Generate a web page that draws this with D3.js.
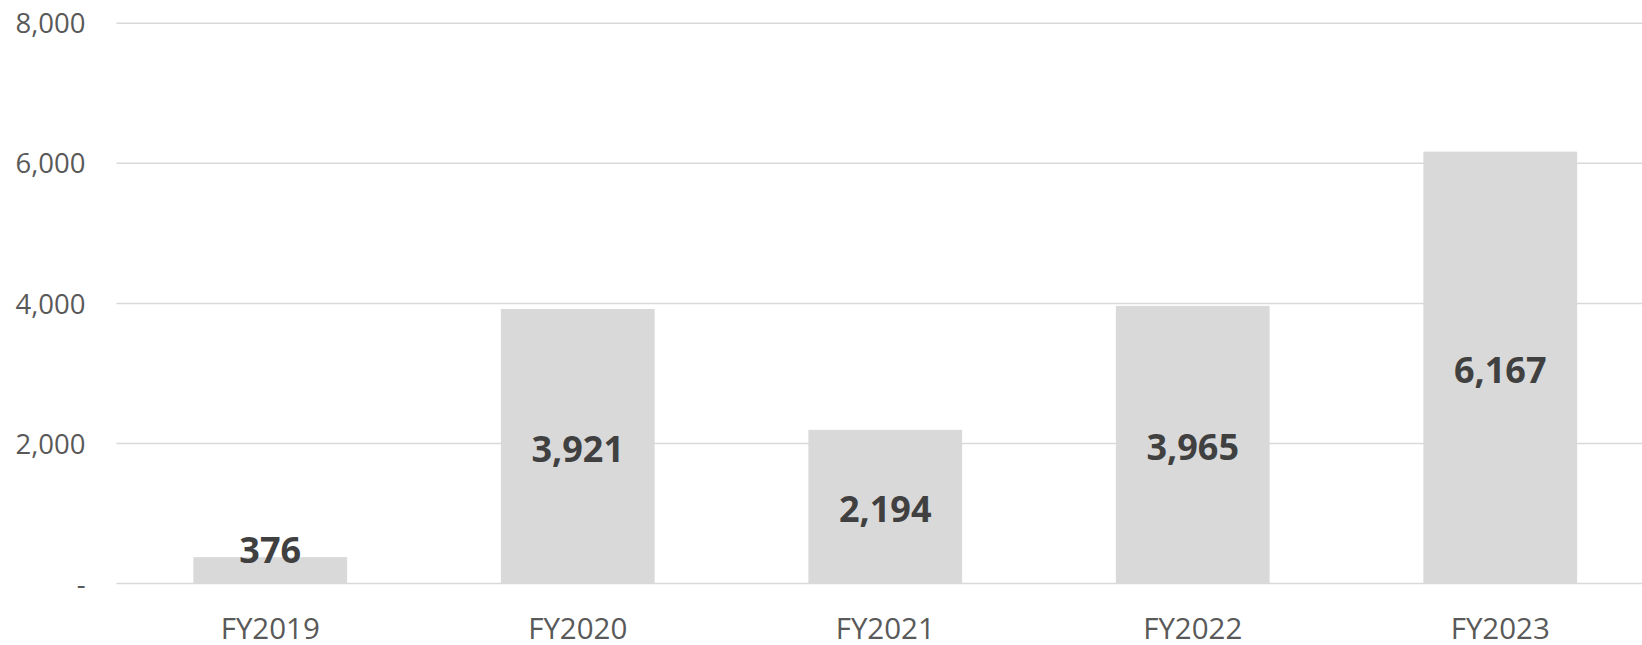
<!DOCTYPE html>
<html>
<head>
<meta charset="utf-8">
<script src="https://cdn.jsdelivr.net/npm/d3@7"></script>
<style>
  html, body { margin: 0; padding: 0; background: #fff; overflow: hidden; }
  svg { display: block; font-family: "Open Sans", "Noto Sans", sans-serif; }
</style>
</head>
<body>
<svg id="chart" width="1642" height="645"></svg>
<script>
// Fiscal years and their values
const categories = ["FY2019", "FY2020", "FY2021", "FY2022", "FY2023"];
const values = [376, 3921, 2194, 3965, 6167];
const yTicks = [0, 2000, 4000, 6000, 8000];
const yTickLabels = ["-", "2,000", "4,000", "6,000", "8,000"];

const svg = d3.select("#chart");
const plotLeft = 116.5, plotRight = 1654, plotTop = 23.3, plotBottom = 583.5;

const x = d3.scaleBand().domain(categories).range([plotLeft, plotRight]).paddingInner(0.5).paddingOuter(0.25);
const y = d3.scaleLinear().domain([0, 8000]).range([plotBottom, plotTop]);

// Horizontal gridlines
svg.append("g")
  .selectAll("line")
  .data(yTicks)
  .join("line")
  .attr("x1", plotLeft).attr("x2", 1642)
  .attr("y1", d => y(d)).attr("y2", d => y(d))
  .attr("stroke", "#d9d9d9").attr("stroke-width", 1.5);

// Y axis labels
const yAxis = d3.axisLeft(y).tickValues(yTicks).tickSize(0).tickPadding(0)
  .tickFormat((d, i) => yTickLabels[i]);
svg.append("g")
  .attr("transform", `translate(${plotLeft - 31},0)`)
  .call(yAxis)
  .call(g => g.select(".domain").remove())
  .call(g => g.selectAll("text")
    .attr("fill", "#595959")
    .attr("font-size", 27.5)
    .attr("font-family", "'Open Sans', sans-serif")
    .attr("dy", "0.35em"));

// Bars
svg.append("g")
  .selectAll("rect")
  .data(values)
  .join("rect")
  .attr("x", (d, i) => x(categories[i]))
  .attr("width", x.bandwidth())
  .attr("y", d => y(d))
  .attr("height", d => y(0) - y(d))
  .attr("fill", "#d9d9d9");

// Value labels, centred in each bar
const fmt = d3.format(",");
svg.append("g")
  .selectAll("text")
  .data(values)
  .join("text")
  .attr("x", (d, i) => x(categories[i]) + x.bandwidth() / 2)
  .attr("y", d => Math.min((y(d) + y(0)) / 2 + 3, y(0) - 33))
  .attr("dy", "0.35em")
  .attr("text-anchor", "middle")
  .attr("font-size", 36)
  .attr("font-weight", "bold")
  .attr("fill", "#404040")
  .text(d => fmt(d));

// X axis labels
const xAxis = d3.axisBottom(x).tickSize(0).tickPadding(0);
svg.append("g")
  .attr("transform", `translate(0,${plotBottom + 34.5})`)
  .call(xAxis)
  .call(g => g.select(".domain").remove())
  .call(g => g.selectAll("text")
    .attr("fill", "#595959")
    .attr("font-size", 29.5)
    .attr("font-family", "'Open Sans', sans-serif")
    .attr("dy", "0.71em"));
</script>
</body>
</html>
